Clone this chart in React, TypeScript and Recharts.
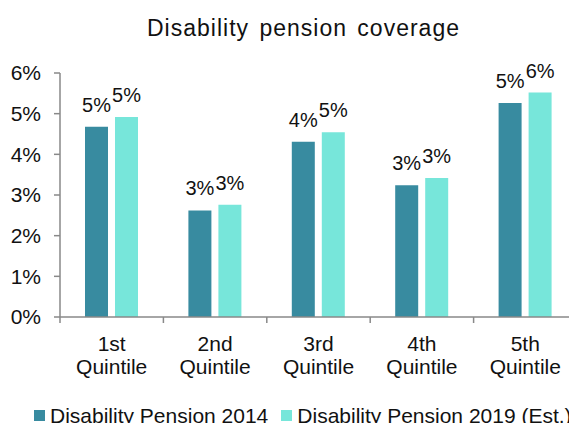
import React from 'react';
import { BarChart, Bar, XAxis, YAxis, LabelList } from 'recharts';

const categories = ['1st Quintile', '2nd Quintile', '3rd Quintile', '4th Quintile', '5th Quintile'];
const pension2014 = [4.68, 2.62, 4.31, 3.24, 5.26];
const pension2019 = [4.92, 2.76, 4.54, 3.42, 5.52];
const yTicks = [0, 1, 2, 3, 4, 5, 6];

const SERIES = [
  { key: 'p2014', name: 'Disability Pension 2014', color: '#388ba0' },
  { key: 'p2019', name: 'Disability Pension 2019 (Est.)', color: '#77e6da' },
];

const FONT = '"Liberation Sans", Arial, sans-serif';
const AXIS_COLOR = '#898989';
const TEXT_COLOR = '#111';

const CHART_W = 600;
const CHART_H = 423;
const MARGIN = { top: 73, right: 23, bottom: 46, left: 0 };
const YAXIS_W = 60;
const XAXIS_H = 60;
const BAND = (CHART_W - MARGIN.left - MARGIN.right - YAXIS_W) / categories.length;

const data = categories.map((name, i) => ({
  name,
  p2014: pension2014[i],
  p2019: pension2019[i],
}));

// two-line category label plus Excel-style tick marks between categories
function QuintileTick(props: any) {
  const { x, y, payload, index } = props;
  const [first, second] = String(payload.value).split(' ');
  const half = BAND / 2;
  return (
    <g>
      <line x1={x - half} x2={x - half} y1={y} y2={y + 6} stroke={AXIS_COLOR} strokeWidth={1.5} />
      {index === categories.length - 1 && (
        <line x1={x + half} x2={x + half} y1={y} y2={y + 6} stroke={AXIS_COLOR} strokeWidth={1.5} />
      )}
      <text x={x} y={y + 34} textAnchor="middle" fontSize={21} fill={TEXT_COLOR} fontFamily={FONT}>{first}</text>
      <text x={x} y={y + 57} textAnchor="middle" fontSize={21} fill={TEXT_COLOR} fontFamily={FONT}>{second}</text>
    </g>
  );
}

export default function App() {
  return (
    <div style={{ position: 'fixed', left: 0, top: 0, width: 569, height: 423, overflow: 'hidden', background: '#fff', fontFamily: FONT }}>
      <div style={{ position: 'absolute', left: 0, top: 17, width: 607, textAlign: 'center', fontSize: 23, lineHeight: '23px', color: TEXT_COLOR, letterSpacing: 1, wordSpacing: 3 }}>
        Disability pension coverage
      </div>
      <div style={{ position: 'absolute', left: 0, top: 0 }}>
        <BarChart width={CHART_W} height={CHART_H} data={data} margin={MARGIN} barGap={7}>
          <XAxis
            dataKey="name"
            interval={0}
            height={XAXIS_H}
            tickLine={false}
            tickSize={0}
            tickMargin={0}
            axisLine={{ stroke: AXIS_COLOR, strokeWidth: 1.5 }}
            tick={<QuintileTick />}
          />
          <YAxis
            width={YAXIS_W}
            domain={[0, 6]}
            ticks={yTicks}
            interval={0}
            tickFormatter={(v: number) => `${v}%`}
            tickSize={6}
            tickMargin={13}
            axisLine={{ stroke: AXIS_COLOR, strokeWidth: 1.5 }}
            tickLine={{ stroke: AXIS_COLOR, strokeWidth: 1.5 }}
            tick={{ fill: TEXT_COLOR, fontSize: 21, fontFamily: FONT }}
          />
          {SERIES.map(s => (
            <Bar key={s.key} dataKey={s.key} name={s.name} fill={s.color} barSize={23} isAnimationActive={false}>
              <LabelList
                dataKey={s.key}
                position="top"
                offset={15}
                formatter={(v: any) => `${Math.round(Number(v))}%`}
                style={{ fill: TEXT_COLOR, fontSize: 20, fontFamily: FONT }}
              />
            </Bar>
          ))}
        </BarChart>
      </div>
      <div style={{ position: 'absolute', left: 34, top: 405, display: 'flex', alignItems: 'center', whiteSpace: 'nowrap', fontSize: 21, lineHeight: '21px', color: TEXT_COLOR }}>
        {SERIES.map(s => (
          <div key={s.key} style={{ display: 'flex', alignItems: 'center', marginRight: 13 }}>
            <span style={{ display: 'inline-block', width: 11, height: 11, background: s.color, marginRight: 5 }} />
            <span>{s.name}</span>
          </div>
        ))}
      </div>
    </div>
  );
}
